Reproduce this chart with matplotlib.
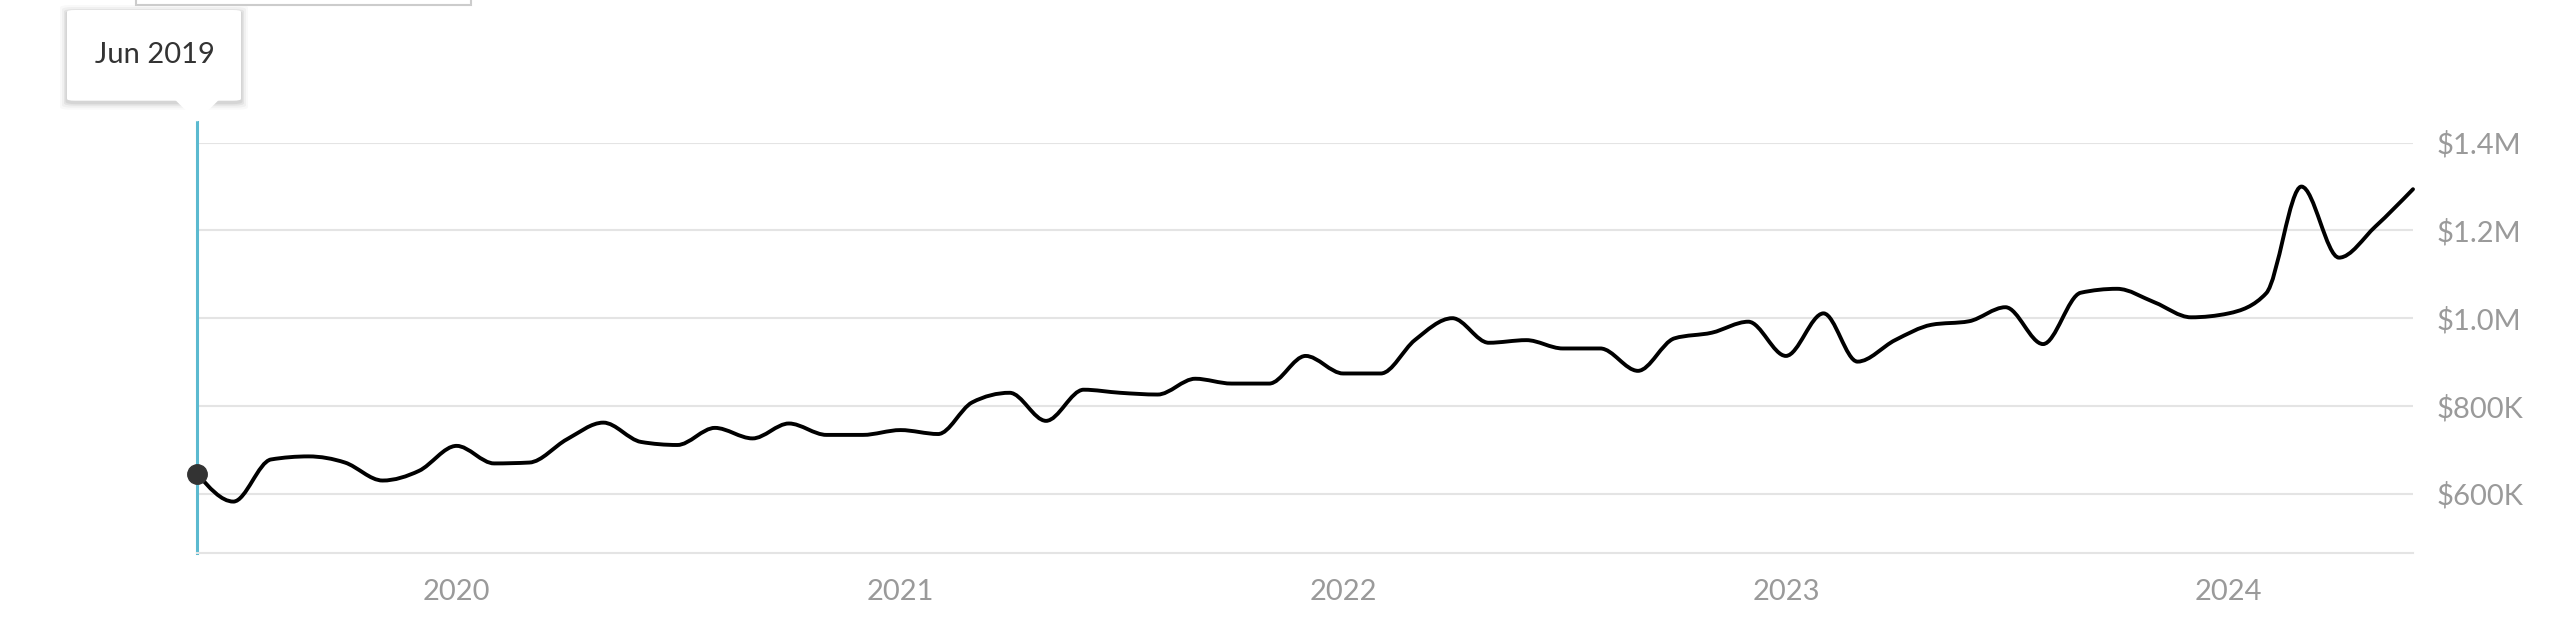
import numpy as np
import pandas as pd
import matplotlib
matplotlib.use("Agg")
import matplotlib.pyplot as plt
import matplotlib.dates as mdates
from matplotlib.path import Path
from matplotlib.patches import PathPatch, FancyBboxPatch, Rectangle, Polygon

# monthly values, Jun 2019 .. Jun 2024
months = pd.date_range("2019-06-01", "2024-06-01", freq="MS")
prices = [
    646, 582, 678, 685, 671, 630, 652, 709, 669, 671, 724, 762,
    718, 711, 750, 726, 760, 734, 734, 745, 736, 808, 830, 766,
    837, 830, 826, 862, 851, 851, 914, 874, 874, 950, 1000, 944,
    950, 931, 931, 880, 954, 967, 992, 914, 1011, 901, 950, 985,
    993, 1025, 941, 1058, 1067, 1036, 1002, 1011, 1057, 1300, 1138, 1209,
    1294,
]
prices = [p * 1000 for p in prices]

year_ticks = pd.to_datetime(["2020-01-01", "2021-01-01", "2022-01-01",
                             "2023-01-01", "2024-01-01"])
year_labels = ["2020", "2021", "2022", "2023", "2024"]
y_ticks = [600000, 800000, 1000000, 1200000, 1400000]
y_labels = ["$600K", "$800K", "$1.0M", "$1.2M", "$1.4M"]
tooltip_text = "Jun 2019"

plt.rcParams["font.family"] = ["Lato", "DejaVu Sans"]

W, H = 2574, 626
GRID = "#e4e4e4"
TICK = "#9a9a9a"


def fx(px):
    return px / W


def fy(py):
    # py measured from the top of the image
    return 1 - py / H


def monotone_path(x, y):
    # same shape as d3.curveMonotoneX, built as cubic bezier segments
    x = np.asarray(x, float)
    y = np.asarray(y, float)
    n = len(x)
    h = np.diff(x)
    s = np.diff(y) / h
    t = np.zeros(n)
    for i in range(1, n - 1):
        p = (s[i - 1] * h[i] + s[i] * h[i - 1]) / (h[i - 1] + h[i])
        t[i] = (np.sign(s[i - 1]) + np.sign(s[i])) * min(abs(s[i - 1]), abs(s[i]), 0.5 * abs(p))
    t[0] = (3 * s[0] - t[1]) / 2
    t[-1] = (3 * s[-1] - t[-2]) / 2
    verts = [(x[0], y[0])]
    codes = [Path.MOVETO]
    for i in range(n - 1):
        dx = h[i] / 3
        verts += [(x[i] + dx, y[i] + dx * t[i]),
                  (x[i + 1] - dx, y[i + 1] - dx * t[i + 1]),
                  (x[i + 1], y[i + 1])]
        codes += [Path.CURVE4] * 3
    return Path(verts, codes)


fig = plt.figure(figsize=(W / 100, H / 100), dpi=100)
ax_left, ax_right = 197, 2413
ax_top, ax_bottom = 142.7, 552.7
ax = fig.add_axes([fx(ax_left), fy(ax_bottom), fx(ax_right - ax_left),
                   (ax_bottom - ax_top) / H])

xnum = mdates.date2num(months)
ax.set_xlim(xnum[0], xnum[-1])
ax.set_ylim(465500, 1400000)

# gridlines and axis
ax.set_yticks(y_ticks)
ax.set_yticklabels(y_labels)
ax.yaxis.tick_right()
ax.grid(axis="y", color=GRID, lw=1.5)
ax.set_axisbelow(True)
for side in ["top", "left", "right"]:
    ax.spines[side].set_visible(False)
ax.spines["bottom"].set_color(GRID)
ax.spines["bottom"].set_linewidth(1.5)
ax.tick_params(axis="y", length=0, pad=17, labelsize=21, labelcolor=TICK)

ax.set_xticks(mdates.date2num(year_ticks))
ax.set_xticklabels(year_labels)
ax.tick_params(axis="x", length=0, pad=19, labelsize=21, labelcolor=TICK)

# hover line
tip_y = 121.7
ax.axvline(xnum[0], ymin=0, ymax=(ax_bottom - tip_y) / (ax_bottom - ax_top),
           color="#5bbad0", lw=2.2, clip_on=False, zorder=2)

# price line
ax.add_patch(PathPatch(monotone_path(xnum, prices), fill=False,
                       edgecolor="black", lw=2.8, zorder=3,
                       capstyle="round", joinstyle="round", clip_on=False))
ax.plot(xnum[0], prices[0], "o", color="#333333", ms=14, zorder=4,
        clip_on=False)

# tooltip with soft shadow
bx0, bx1, by0, by1 = 67, 241, 10, 100.7
for k, a in [(7, 0.025), (5, 0.035), (3, 0.05), (1.5, 0.06)]:
    fig.patches.append(FancyBboxPatch(
        (fx(bx0 - k), fy(by1 + k + 2)), fx(bx1 - bx0 + 2 * k),
        (by1 - by0 + 2 * k) / H,
        boxstyle="round,pad=0,rounding_size=0.004",
        transform=fig.transFigure, facecolor="black", edgecolor="none",
        alpha=a, zorder=5))
fig.patches.append(FancyBboxPatch(
    (fx(bx0), fy(by1)), fx(bx1 - bx0), (by1 - by0) / H,
    boxstyle="round,pad=0,rounding_size=0.003",
    transform=fig.transFigure, facecolor="white", edgecolor="none", zorder=6))
fig.patches.append(Polygon(
    [(fx(175), fy(by1 - 1)), (fx(219), fy(by1 - 1)), (fx(197), fy(tip_y))],
    closed=True, transform=fig.transFigure, facecolor="white",
    edgecolor="none", zorder=6))
fig.text(fx(154.5), fy(55), tooltip_text, ha="center", va="center",
         fontsize=21, color="#333333", zorder=7)

# clipped control at the top edge
fig.patches.append(Rectangle(
    (fx(136), fy(4.6)), fx(471 - 136), 30 / H, transform=fig.transFigure,
    facecolor="white", edgecolor="#cccccc", lw=1.5, zorder=5))

fig.savefig("out.png", dpi=100)
